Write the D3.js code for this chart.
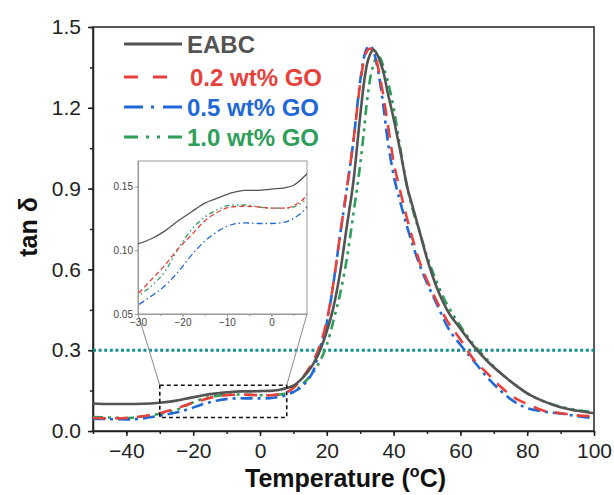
<!DOCTYPE html>
<meta charset="utf-8">
<style>
body { margin: 0; background: #fff; }
svg { font-family: "Liberation Sans", Arial, sans-serif; }
.frame { fill: none; stroke: #222; stroke-width: 1.5px; }
.axis path, .axis line { stroke: #222; stroke-width: 1.5px; }
.axis text { font-size: 21px; fill: #222; }
.inset .axis path, .inset .axis line { stroke: #999; stroke-width: 1px; }
.inset .axis text { font-size: 10px; fill: #444; }
.title { font-weight: bold; font-size: 25px; fill: #111; }
.legend text { font-weight: bold; font-size: 24px; }
.series { fill: none; }
</style>
<svg width="614" height="495"></svg>
<script src="https://d3js.org/d3.v7.min.js"></script>
<script>

// data
var temps = [-50,-45,-40,-35,-30,-27,-24,-21,-18,-15,-12,-9,-6,-3,0,3,5,8,10,12,
  14,16,18,20,22,24,26,28,30,31,32,33,34,35,36,37,38,40,42,44,46,48,50,53,56,
  60,64,68,72,76,80,85,90,95,100];

var eabc = [0.102,0.100,0.100,0.101,0.105,0.109,0.115,0.123,0.130,0.137,0.141,0.145,0.147,0.147,0.148,
  0.149,0.151,0.160,0.168,0.188,0.215,0.25,0.30,0.37,0.46,0.59,0.76,0.93,1.17,1.28,
  1.36,1.40,1.415,1.40,1.37,1.33,1.27,1.16,1.04,0.91,0.82,0.73,0.64,0.53,0.45,
  0.38,0.315,0.26,0.215,0.175,0.14,0.11,0.088,0.075,0.066];

var go02 = [0.048,0.047,0.048,0.055,0.066,0.077,0.088,0.101,0.112,0.123,0.130,0.134,0.1345,0.134,0.133,
  0.133,0.135,0.144,0.16,0.185,0.22,0.26,0.32,0.41,0.55,0.73,0.90,1.08,1.29,1.37,
  1.41,1.42,1.41,1.37,1.31,1.24,1.16,1.00,0.89,0.79,0.70,0.62,0.56,0.48,0.41,
  0.34,0.265,0.215,0.165,0.125,0.10,0.075,0.066,0.058,0.055];

var go05 = [0.045,0.044,0.043,0.047,0.057,0.064,0.072,0.083,0.096,0.107,0.115,0.120,0.1215,0.121,0.121,
  0.122,0.125,0.134,0.145,0.16,0.185,0.225,0.31,0.40,0.55,0.73,0.90,1.08,1.30,1.38,
  1.42,1.43,1.41,1.36,1.29,1.20,1.10,0.95,0.85,0.76,0.68,0.61,0.55,0.47,0.39,
  0.32,0.26,0.20,0.15,0.11,0.085,0.072,0.065,0.055,0.048];

var go10 = [0.052,0.050,0.048,0.055,0.064,0.072,0.083,0.101,0.116,0.126,0.132,0.1355,0.1355,0.134,0.133,
  0.133,0.134,0.140,0.145,0.165,0.19,0.22,0.26,0.32,0.41,0.51,0.64,0.81,0.99,1.10,
  1.22,1.31,1.36,1.39,1.385,1.35,1.31,1.20,1.05,0.91,0.81,0.73,0.65,0.55,0.47,
  0.39,0.32,0.265,0.215,0.175,0.14,0.11,0.09,0.078,0.07];

var names = ["EABC", "0.2 wt% GO", "0.5 wt% GO", "1.0 wt% GO"];
var xTicks = [-40, -20, 0, 20, 40, 60, 80, 100];
var yTicks = [0.0, 0.3, 0.6, 0.9, 1.2, 1.5];
var insetXTicks = [-30, -20, -10, 0];
var insetYTicks = [0.05, 0.10, 0.15];
var refLine = 0.3;
var zoomBox = {x0: -30, x1: 8, y0: 0.05, y1: 0.17};

var styles = [
  {color: "#545454", dash: null, legendDash: null, legendEnd: 182, insetDash: null},
  {color: "#e8413c", dash: "13,9", legendDash: "14,15", legendEnd: 168, insetDash: "5,3"},
  {color: "#1f68d8", dash: "12,5,3,5", legendDash: "19,8,3,9", legendEnd: 182, insetDash: "6,3,1.5,3"},
  {color: "#2e9e5a", dash: "10,5,3,5,3,5", legendDash: "14,8,3,8,3,8", legendEnd: 182, insetDash: "5,3,1.5,3,1.5,3"}
];

var series = [eabc, go02, go05, go10].map(function(vals, i) {
  return {name: names[i], style: styles[i],
    values: temps.map(function(t, j) { return {t: t, v: vals[j]}; })};
});

var svg = d3.select("svg"),
    margin = {top: 27, left: 93},
    width = 501,
    height = 404;

var x = d3.scaleLinear().domain([-50, 100]).range([0, width]),
    y = d3.scaleLinear().domain([0, 1.5]).range([height, 0]);

var g = svg.append("g").attr("transform", "translate(" + margin.left + "," + margin.top + ")");

var defs = svg.append("defs");
defs.append("clipPath").attr("id", "clip")
  .append("rect").attr("width", width).attr("height", height);

var fmtMinus = function(d) { return d < 0 ? "\u2212" + Math.abs(d) : "" + d; };

// minor ticks
g.append("g").attr("class", "axis")
    .attr("transform", "translate(0," + height + ")")
    .call(d3.axisBottom(x).tickValues(d3.range(-50, 101, 10)).tickSize(3).tickFormat(""))
    .select(".domain").remove();
g.append("g").attr("class", "axis")
    .call(d3.axisLeft(y).tickValues(d3.range(0, 1.51, 0.15)).tickSize(3).tickFormat(""))
    .select(".domain").remove();

g.append("g").attr("class", "axis")
    .attr("transform", "translate(0," + height + ")")
    .call(d3.axisBottom(x).tickValues(xTicks).tickSize(5).tickSizeOuter(0).tickPadding(7).tickFormat(fmtMinus));
g.append("g").attr("class", "axis")
    .call(d3.axisLeft(y).tickValues(yTicks).tickSize(5).tickSizeOuter(0).tickPadding(7).tickFormat(d3.format(".1f")));

g.append("rect").attr("class", "frame").attr("width", width).attr("height", height);

// reference line
g.append("line")
    .attr("x1", 0).attr("x2", width)
    .attr("y1", y(refLine)).attr("y2", y(refLine))
    .attr("stroke", "#14908e").attr("stroke-width", 3).attr("stroke-dasharray", "3,2.6");

var line = d3.line()
    .curve(d3.curveMonotoneX)
    .x(function(d) { return x(d.t); })
    .y(function(d) { return y(d.v); });

g.append("g").attr("clip-path", "url(#clip)")
  .selectAll("path").data(series.slice().reverse()).enter().append("path")
    .attr("class", "series")
    .attr("d", function(d) { return line(d.values); })
    .attr("stroke", function(d) { return d.style.color; })
    .attr("stroke-width", 2.6)
    .attr("stroke-dasharray", function(d) { return d.style.dash; });

// zoom box
g.append("rect")
    .attr("x", x(zoomBox.x0)).attr("y", y(zoomBox.y1))
    .attr("width", x(zoomBox.x1) - x(zoomBox.x0))
    .attr("height", y(zoomBox.y0) - y(zoomBox.y1))
    .attr("fill", "none").attr("stroke", "#111").attr("stroke-width", 1.6)
    .attr("stroke-dasharray", "4,3");

// inset
var inset = {left: 138, top: 161, width: 169, height: 153};
var ix = d3.scaleLinear().domain([zoomBox.x0, zoomBox.x1]).range([0, inset.width]),
    iy = d3.scaleLinear().domain([zoomBox.y0, zoomBox.y1]).range([inset.height, 0]);

// connectors
[[zoomBox.x0, 0], [zoomBox.x1, inset.width]].forEach(function(p) {
  g.append("line")
      .attr("x1", x(p[0])).attr("y1", y(zoomBox.y1))
      .attr("x2", inset.left - margin.left + p[1]).attr("y2", inset.top - margin.top + inset.height)
      .attr("stroke", "#888").attr("stroke-width", 1);
});

var ig = svg.append("g").attr("class", "inset")
    .attr("transform", "translate(" + inset.left + "," + inset.top + ")");

defs.append("clipPath").attr("id", "iclip")
  .append("rect").attr("width", inset.width).attr("height", inset.height);

ig.append("rect").attr("width", inset.width).attr("height", inset.height)
    .attr("fill", "#fff").attr("stroke", "#999").attr("stroke-width", 1);

ig.append("g").attr("class", "axis")
    .attr("transform", "translate(0," + inset.height + ")")
    .call(d3.axisBottom(ix).tickValues(d3.range(-30, 8, 5)).tickSize(2).tickFormat(""))
    .select(".domain").remove();
ig.append("g").attr("class", "axis")
    .attr("transform", "translate(0," + inset.height + ")")
    .call(d3.axisBottom(ix).tickValues(insetXTicks).tickSize(3).tickSizeOuter(0).tickPadding(2).tickFormat(d3.format("d")));
ig.append("g").attr("class", "axis")
    .call(d3.axisLeft(iy).tickValues(insetYTicks).tickSize(3).tickSizeOuter(0).tickPadding(2).tickFormat(d3.format(".2f")));

var iline = d3.line()
    .curve(d3.curveMonotoneX)
    .x(function(d) { return ix(d.t); })
    .y(function(d) { return iy(d.v); });

ig.append("g").attr("clip-path", "url(#iclip)")
  .selectAll("path").data(series.slice().reverse()).enter().append("path")
    .attr("class", "series")
    .attr("d", function(d) { return iline(d.values); })
    .attr("stroke", function(d) { return d.style.color; })
    .attr("stroke-width", 1.3)
    .attr("stroke-dasharray", function(d) { return d.style.insetDash; });

// legend
var legend = svg.append("g").attr("class", "legend");
var rows = [44, 77, 107, 137];
series.forEach(function(s, i) {
  legend.append("line")
      .attr("x1", 124).attr("x2", s.style.legendEnd)
      .attr("y1", rows[i]).attr("y2", rows[i])
      .attr("stroke", s.style.color).attr("stroke-width", 3)
      .attr("stroke-dasharray", s.style.legendDash);
  legend.append("text")
      .attr("x", i === 1 ? 190 : 187).attr("y", rows[i]).attr("dy", "0.36em")
      .attr("fill", s.style.color)
      .text(s.name);
});

// titles
var xt = svg.append("text").attr("class", "title")
    .attr("x", margin.left + width / 2 + 2).attr("y", 487)
    .attr("text-anchor", "middle");
xt.append("tspan").text("Temperature (");
xt.append("tspan").attr("font-size", "16px").attr("dy", -10).text("o");
xt.append("tspan").attr("dy", 10).text("C)");

svg.append("text").attr("class", "title")
    .attr("transform", "translate(37,227) rotate(-90)")
    .attr("text-anchor", "middle")
    .text("tan \u03b4");

</script>
